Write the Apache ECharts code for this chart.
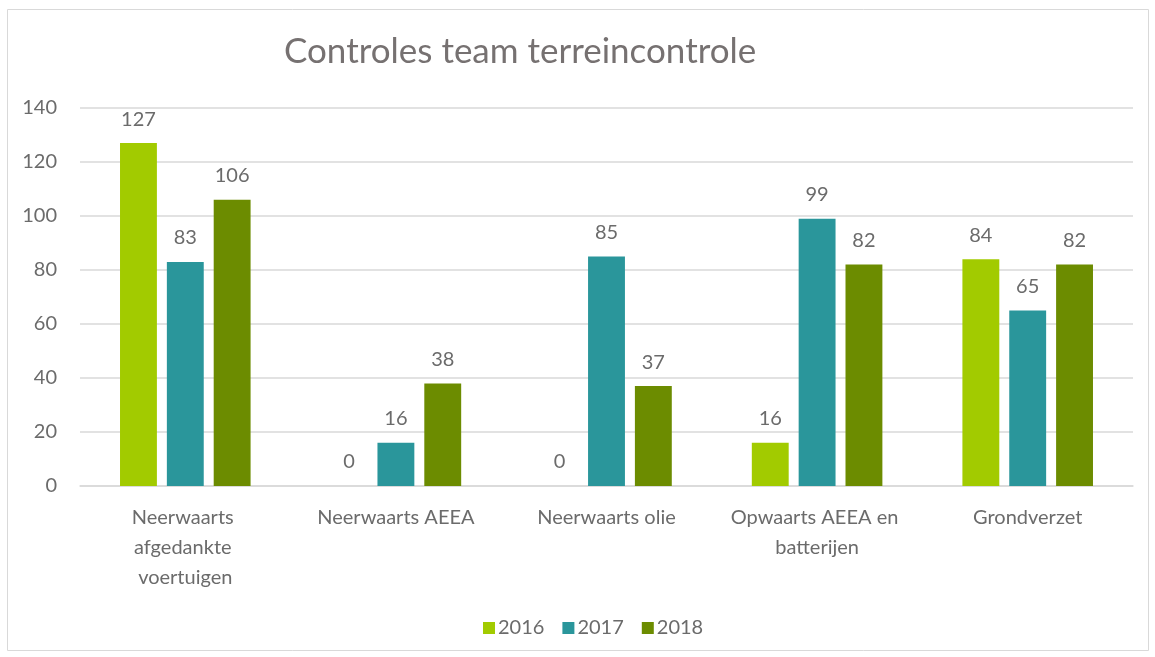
<!DOCTYPE html>
<html><head><meta charset="utf-8">
<script src="https://cdn.jsdelivr.net/npm/echarts@6/dist/echarts.min.js"></script>
<style>html,body{margin:0;padding:0;background:#fff}#c{width:1155px;height:657px}</style>
</head><body><div id="c"></div>
<script>
const categories = ["Neerwaarts afgedankte voertuigen", "Neerwaarts AEEA", "Neerwaarts olie", "Opwaarts AEEA en batterijen", "Grondverzet"];
const years = ["2016", "2017", "2018"];
const v2016 = [127, 0, 0, 16, 84];
const v2017 = [83, 16, 85, 99, 65];
const v2018 = [106, 38, 37, 82, 82];
const colors = ["#A2CB00", "#2A969B", "#6C8C00"];
const font = "Lato";
const txt = "#6b6b6b";
const chart = echarts.init(document.getElementById('c'));
const mk = (name, data, i) => ({
  name, type: 'bar', data, barGap: '27%', barCategoryGap: '38%',
  itemStyle: { color: colors[i] },
  label: { show: true, position: 'top', distance: 14, color: txt, fontSize: 20, fontFamily: font }
});
chart.setOption({
  animation: false,
  textStyle: { fontFamily: font },
  graphic: [{ type: 'rect', shape: { x: 7.5, y: 9.5, width: 1141, height: 641 }, style: { fill: 'none', stroke: '#d9d9d9', lineWidth: 1 } }],
  title: { text: 'Controles team terreincontrole', left: 279, top: 29, textStyle: { fontFamily: font, fontSize: 35, fontWeight: 'normal', color: '#767171' } },
  legend: { data: years, bottom: 14, left: 478, itemWidth: 12, itemHeight: 12, itemGap: 18, icon: 'rect',
    textStyle: { fontFamily: font, fontSize: 20, color: txt, padding: [0,0,0,-2] } },
  grid: { left: 80, right: 22, top: 108, bottom: 171, containLabel: false },
  xAxis: { type: 'category', data: categories,
    axisLine: { lineStyle: { color: '#d9d9d9', width: 1.5 } }, axisTick: { show: false },
    axisLabel: { color: txt, fontSize: 20, fontFamily: font, margin: 17, lineHeight: 30, width: 182, overflow: 'break', interval: 0 } },
  yAxis: { type: 'value', min: 0, max: 140, interval: 20,
    axisLine: { show: false }, axisTick: { show: false },
    splitLine: { lineStyle: { color: '#d9d9d9', width: 1.5 } },
    axisLabel: { color: txt, fontSize: 20, fontFamily: font, margin: 23 } },
  series: [mk(years[0], v2016, 0), mk(years[1], v2017, 1), mk(years[2], v2018, 2)]
});
</script></body></html>
